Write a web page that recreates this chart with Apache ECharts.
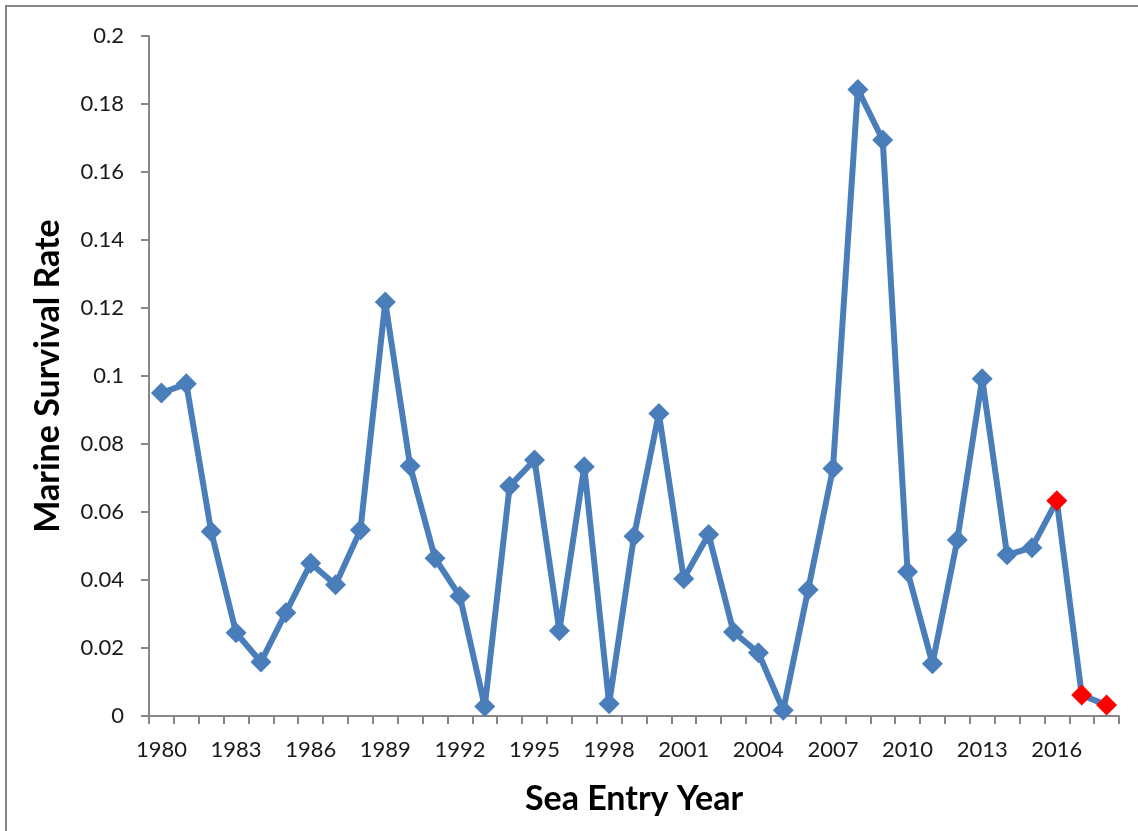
<!DOCTYPE html>
<html>
<head>
<meta charset="utf-8">
<script src="https://cdn.jsdelivr.net/npm/echarts@6/dist/echarts.min.js"></script>
<style>
  html, body { margin: 0; padding: 0; background: #fff; }
  #chart { width: 1138px; height: 831px; }
</style>
</head>
<body>
<div id="chart"></div>
<script>
  // sea entry years (x categories)
  const years = [
    '1980', '1981', '1982', '1983', '1984', '1985', '1986', '1987', '1988', '1989',
    '1990', '1991', '1992', '1993', '1994', '1995', '1996', '1997', '1998', '1999',
    '2000', '2001', '2002', '2003', '2004', '2005', '2006', '2007', '2008', '2009',
    '2010', '2011', '2012', '2013', '2014', '2015', '2016', '2017', '2018'
  ];
  // marine survival rate
  const survival = [
    0.095, 0.0977, 0.0543, 0.0245, 0.0159, 0.0304, 0.0449, 0.0386, 0.0547, 0.1218,
    0.0735, 0.0464, 0.0352, 0.0028, 0.0676, 0.0753, 0.0251, 0.0733, 0.0036, 0.0529,
    0.089, 0.0404, 0.0534, 0.0247, 0.0186, 0.0017, 0.0371, 0.0728, 0.1843, 0.1694,
    0.0424, 0.0154, 0.0518, 0.0992, 0.0474, 0.0495, 0.0633, 0.0062, 0.0032
  ];
  // years drawn with red markers
  const redYears = ['2016', '2017', '2018'];

  const blue = '#4a7ebb';
  const axisGrey = '#868686';
  const font = 'Lato, "Open Sans", sans-serif';

  const chart = echarts.init(document.getElementById('chart'));

  const option = {
    backgroundColor: '#fff',
    animation: false,
    graphic: [
      {
        type: 'rect',
        shape: { x: 6, y: 6, width: 2000, height: 2000 },
        style: { fill: 'none', stroke: axisGrey, lineWidth: 2 },
        silent: true
      }
    ],
    grid: { left: 149, right: 19, top: 36, bottom: 115 },
    xAxis: {
      type: 'category',
      data: years,
      boundaryGap: true,
      name: 'Sea Entry Year',
      nameLocation: 'middle',
      nameGap: 66,
      nameTextStyle: { fontFamily: font, fontSize: 34, fontWeight: 'bold', color: '#000' },
      axisLine: { lineStyle: { color: axisGrey, width: 2 } },
      axisTick: { show: true, interval: 0, length: 8, lineStyle: { color: axisGrey, width: 2 } },
      axisLabel: { interval: 2, margin: 23, fontFamily: font, fontSize: 22, color: '#1a1a1a' },
      splitLine: { show: false }
    },
    yAxis: {
      type: 'value',
      min: 0,
      max: 0.2,
      interval: 0.02,
      name: 'Marine Survival Rate',
      nameLocation: 'middle',
      nameGap: 84,
      nameRotate: 90,
      nameTextStyle: { fontFamily: font, fontSize: 34, fontWeight: 'bold', color: '#000' },
      axisLine: { show: true, lineStyle: { color: axisGrey, width: 2 } },
      axisTick: { show: true, length: 8, lineStyle: { color: axisGrey, width: 2 } },
      axisLabel: {
        margin: 25,
        fontFamily: font,
        fontSize: 22,
        color: '#1a1a1a',
        formatter: v => String(+v.toFixed(2))
      },
      splitLine: { show: false }
    },
    series: [
      {
        type: 'line',
        data: survival.map((v, i) => redYears.includes(years[i])
          ? { value: v, itemStyle: { color: '#ff0000' } }
          : v),
        symbol: 'diamond',
        symbolSize: 21,
        showAllSymbol: true,
        lineStyle: { color: blue, width: 6 },
        itemStyle: { color: blue }
      }
    ]
  };

  chart.setOption(option);
</script>
</body>
</html>
